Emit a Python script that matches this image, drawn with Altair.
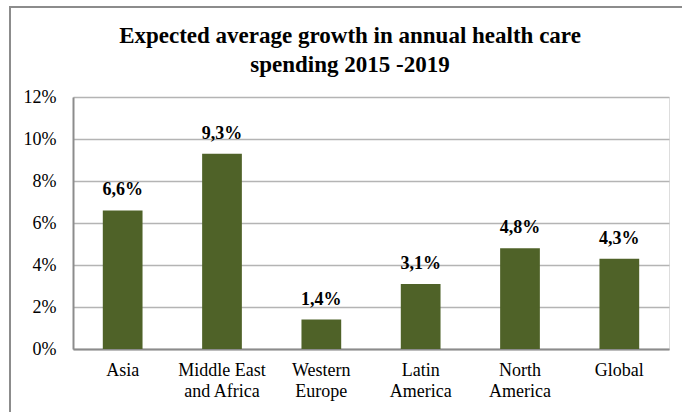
import altair as alt
import pandas as pd

categories = ["Asia", "Middle East|and Africa", "Western|Europe", "Latin|America", "North|America", "Global"]
values = [6.6, 9.3, 1.4, 3.1, 4.8, 4.3]
value_labels = ["6,6%", "9,3%", "1,4%", "3,1%", "4,8%", "4,3%"]

df = pd.DataFrame({"region": categories, "growth": values, "label": value_labels})

FONT = "Liberation Serif"
W, H = 596, 252

x = alt.X("region:N", sort=categories, title=None,
          scale=alt.Scale(paddingInner=0.6, paddingOuter=0.3),
          axis=alt.Axis(labelAngle=0, labelExpr="split(datum.label, '|')",
                        labelFontSize=18, labelColor="black",
                        labelPadding=12, labelLineHeight=21, ticks=False,
                        domainColor="#8c8c8c", domainWidth=2, labelBaseline="top"))
y = alt.Y("growth:Q", title=None,
          scale=alt.Scale(domain=[0, 12]),
          axis=alt.Axis(values=[0, 2, 4, 6, 8, 10, 12], labelExpr="datum.value + '%'",
                        labelFontSize=18, labelColor="black",
                        labelPadding=17, ticks=False, domainColor="#8c8c8c", domainWidth=2,
                        gridColor="#b4b4b4", gridWidth=1.5))

bars = alt.Chart(df).mark_bar(color="#4F6228").encode(x=x, y=y)
text = alt.Chart(df).mark_text(font=FONT, fontSize=18, fontWeight="bold", dy=-11,
                               baseline="bottom", color="black").encode(
    x=alt.X("region:N", sort=categories), y="growth:Q", text="label:N")

frame = alt.Chart(df).mark_rect(fill=None, stroke="#8c8c8c", strokeWidth=2).encode(
    x=alt.value(-63), x2=alt.value(640), y=alt.value(-90), y2=alt.value(340))

chart = alt.layer(frame, bars, text).properties(
    width=W, height=H,
    title=alt.TitleParams(["Expected average growth in annual health care", "spending 2015 -2019"],
                          font=FONT, fontSize=23, fontWeight="bold", color="black",
                          anchor="middle", dx=-21, offset=-71, lineHeight=29),
    autosize=alt.AutoSizeParams(type="none"),
    padding={"left": 73, "top": 97, "right": 13, "bottom": 63},
).configure_view(stroke=None).configure(background="white", font=FONT).configure_axis(
    labelFont=FONT).configure_text(font=FONT)

chart.save("out.html", embed_options={"renderer": "svg", "actions": False})
